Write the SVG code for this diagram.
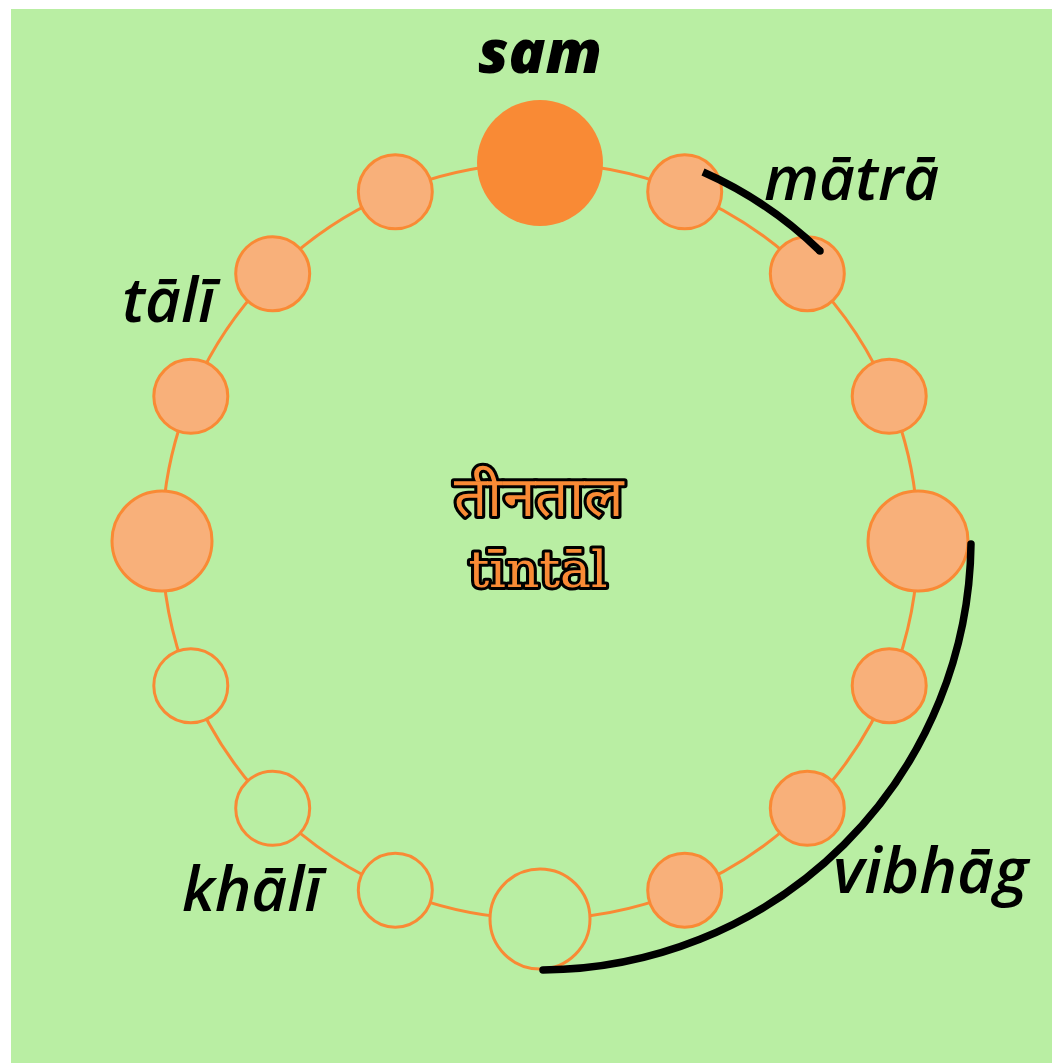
<svg xmlns="http://www.w3.org/2000/svg" width="1052" height="1063" viewBox="0 0 1052 1063">
<style>
.bg{fill:#b9eea3}
.ring{fill:none;stroke:#f98a35;stroke-width:3}
.n{fill:#f8b07a;stroke:#f98a35;stroke-width:3}
.e{fill:#b9eea3;stroke:#f98a35;stroke-width:3}
.sam{fill:#f98a35}
.arc{fill:none;stroke:#000;stroke-width:7.5;stroke-linecap:round}
.lbl{font-family:"Open Sans","Noto Sans",sans-serif;font-style:italic;font-weight:600;font-size:62px;fill:#000}
.title{font-family:"DejaVu Serif","Noto Serif",serif;fill:#f98a35;stroke:#000;stroke-width:6;stroke-linejoin:round;paint-order:stroke;text-anchor:middle}
</style>
<rect class="bg" x="11" y="9" width="1041" height="1054"/>
<g id="connectors">
<circle class="ring" cx="540" cy="541" r="378"/>
</g>
<g id="node-0"><circle class="sam" cx="540" cy="163" r="63"/></g>
<g id="node-1"><circle class="n" cx="684.7" cy="191.8" r="37"/></g>
<g id="node-2"><circle class="n" cx="807.3" cy="273.7" r="37"/></g>
<g id="node-3"><circle class="n" cx="889.2" cy="396.3" r="37"/></g>
<g id="node-4"><circle class="n" cx="918" cy="541" r="50"/></g>
<g id="node-5"><circle class="n" cx="889.2" cy="685.7" r="37"/></g>
<g id="node-6"><circle class="n" cx="807.3" cy="808.3" r="37"/></g>
<g id="node-7"><circle class="n" cx="684.7" cy="890.2" r="37"/></g>
<g id="node-8"><circle class="e" cx="540" cy="919" r="50"/></g>
<g id="node-9"><circle class="e" cx="395.3" cy="890.2" r="37"/></g>
<g id="node-10"><circle class="e" cx="272.7" cy="808.3" r="37"/></g>
<g id="node-11"><circle class="e" cx="190.8" cy="685.7" r="37"/></g>
<g id="node-12"><circle class="n" cx="162" cy="541" r="50"/></g>
<g id="node-13"><circle class="n" cx="190.8" cy="396.3" r="37"/></g>
<g id="node-14"><circle class="n" cx="272.7" cy="273.7" r="37"/></g>
<g id="node-15"><circle class="n" cx="395.3" cy="191.8" r="37"/></g>
<g id="annotation-arcs">
<path id="matra-arc" class="arc" d="M703,172 A403,403 0 0 1 820,251" style="stroke-linecap:butt"/>
<circle cx="820" cy="251" r="3.75" fill="#000"/>
<path id="vibhag-arc" class="arc" d="M971,544 A431,431 0 0 1 543,970"/>
</g>
<g id="labels">
<text class="lbl" x="540" y="73" text-anchor="middle" style="font-weight:800;font-size:61px">sam</text>
<text class="lbl" x="764" y="200">mātrā</text>
<text class="lbl" x="122" y="322">tālī</text>
<text class="lbl" x="182" y="911">khālī</text>
<text class="lbl" x="833" y="893" style="font-size:64px">vibhāg</text>
<text class="title" x="539" y="516" font-size="56" textLength="170" lengthAdjust="spacingAndGlyphs">तीनताल</text>
<text class="title" x="538" y="587" font-size="50" textLength="139" lengthAdjust="spacingAndGlyphs">tīntāl</text>
</g>
</svg>
